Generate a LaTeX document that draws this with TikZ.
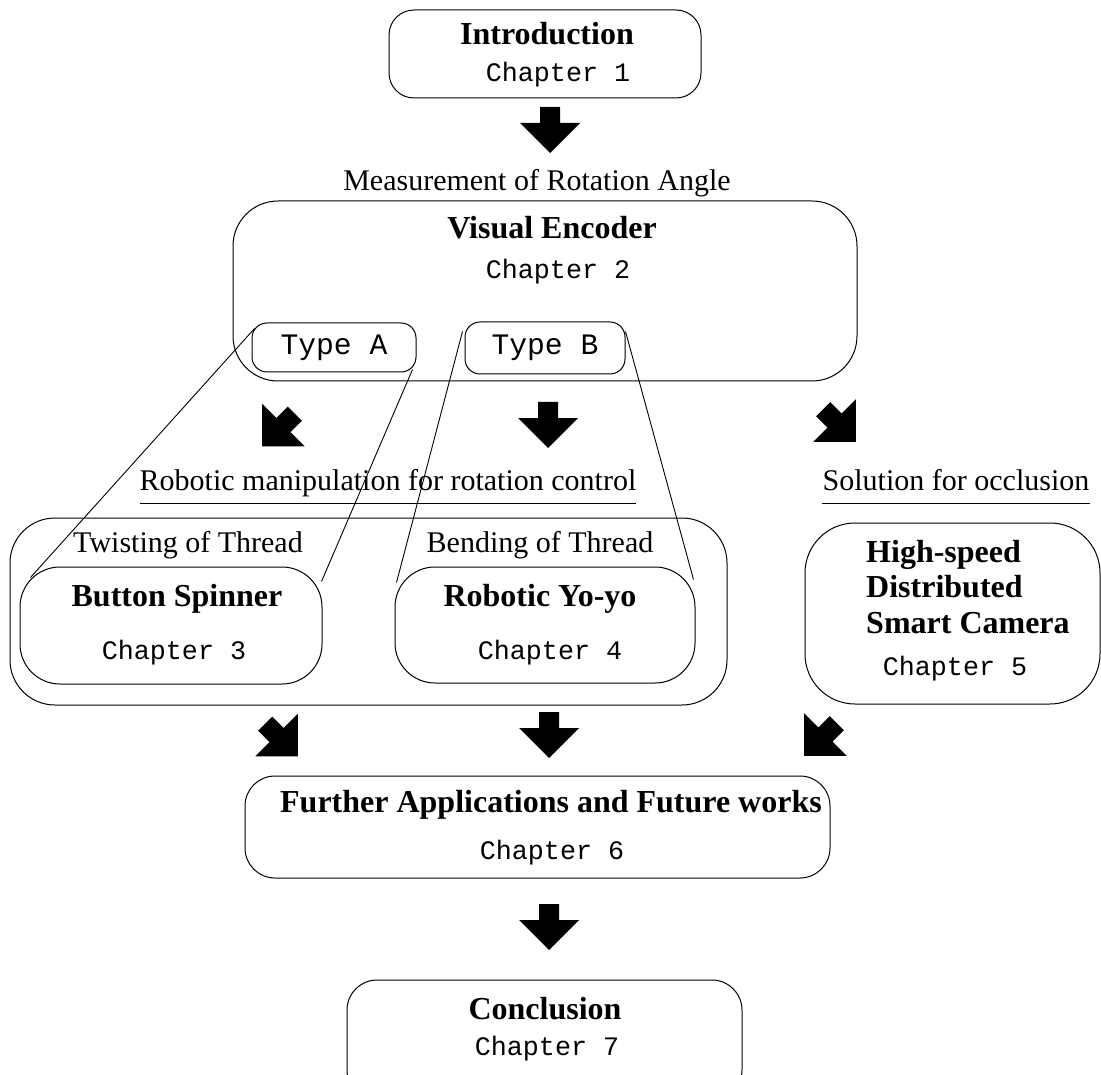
\documentclass[tikz,border=0pt]{standalone}
\usepackage{fontspec}
\setmainfont{Liberation Serif}
\setmonofont{Liberation Mono}
\usetikzlibrary{calc}
\tikzset{
  box/.style={draw, line width=1pt, rounded corners=#1, inner sep=0pt},
  ttl/.style={font=\fontsize{32}{36}\selectfont\bfseries, inner sep=0pt, text height=0.7em, text depth=0.2em, yshift=-7pt},
  lbl/.style={font=\fontsize{30}{34}\selectfont, inner sep=0pt, text height=0.7em, text depth=0.2em, yshift=-7pt},
  chap/.style={font=\fontsize{26.7}{30}\selectfont\ttfamily, inner sep=0pt, text height=0.7em, text depth=0.2em, yshift=-6pt},
  typ/.style={font=\fontsize{29.7}{32}\selectfont\ttfamily},
  conn/.style={line width=0.9pt},
  blockarrow/.pic={\fill (-10,-23) -- (10,-23) -- (10,-7) -- (30,-7) -- (0,23) -- (-30,-7) -- (-10,-7) -- cycle;}
}
\begin{document}
\begin{tikzpicture}[x=1pt,y=-1pt]
\useasboundingbox (0,0) rectangle (1101,1075);
\clip (0,0) rectangle (1101,1075);
% boxes
\node[box=25pt, minimum width=312, minimum height=88] (intro) at (545,54) {};
\node[box=45pt, minimum width=624, minimum height=180] (ve) at (545,291) {};
\node[box=15pt, minimum width=164, minimum height=49, typ] (typeA) at (334,347.5) {Type A};
\node[box=15pt, minimum width=160, minimum height=52, typ] (typeB) at (545,348) {Type B};
\node[box=45pt, minimum width=717, minimum height=187] (group) at (368.5,611.5) {};
\node[box=40pt, minimum width=302, minimum height=117] (spin) at (171,625.5) {};
\node[box=40pt, minimum width=300, minimum height=116] (yoyo) at (545,625) {};
\node[box=50pt, minimum width=295, minimum height=181] (hsdc) at (952.5,613.5) {};
\node[box=30pt, minimum width=585, minimum height=102] (further) at (537.5,827) {};
\node[box=30pt, minimum width=395, minimum height=120] (concl) at (544.5,1040) {};
% texts
\node[ttl] (introT) at (547,35) {Introduction};
\node[chap] (introC) at (558,73) {Chapter 1};
\node[lbl] (measure) at (537,181) {Measurement of Rotation Angle};
\node[ttl] (veT) at (552,229) {Visual Encoder};
\node[chap] (veC) at (558,270) {Chapter 2};
\node[lbl] (robot) at (388,481) {Robotic manipulation for rotation control};
\node[lbl] (occl) at (956,481) {Solution for occlusion};
\draw[line width=1pt] ([yshift=-11pt]robot.south west) -- ([yshift=-11pt]robot.south east);
\draw[line width=1pt] ([yshift=-11pt]occl.south west) -- ([yshift=-11pt]occl.south east);
\node[lbl] (twist) at (188,543) {Twisting of Thread};
\node[lbl] (bend) at (540,543) {Bending of Thread};
\node[ttl] (spinT) at (177,597) {Button Spinner};
\node[chap] (spinC) at (174,651) {Chapter 3};
\node[ttl] (yoyoT) at (540,597) {Robotic Yo-yo};
\node[chap] (yoyoC) at (550,651) {Chapter 4};
\node[font=\fontsize{32}{35.5}\selectfont\bfseries, align=left, anchor=west, inner sep=0pt] (hsdcT) at (866,587) {High-speed\\Distributed\\Smart Camera};
\node[chap] (hsdcC) at (955,667) {Chapter 5};
\node[ttl] (furtherT) at (551,803) {Further Applications and Future works};
\node[chap] (furtherC) at (552,851) {Chapter 6};
\node[ttl] (conclT) at (545,1010) {Conclusion};
\node[chap] (conclC) at (547,1047) {Chapter 7};
% connectors
\draw[conn] ($(typeA.north west)+(3,6)$) -- ($(spin.north west)+(11,11)$);
\draw[conn] ($(typeA.south east)+(-4,-3)$) -- ($(spin.north east)+(-1,15)$);
\draw[conn] ($(typeB.north west)+(-2,10)$) -- ($(yoyo.north west)+(2,16)$);
\draw[conn] ($(typeB.north east)+(0,10)$) -- ($(yoyo.north east)+(-2,13)$);
% block arrows
\pic at (550,130) {blockarrow};
\pic[rotate=-45] at (278.5,430) {blockarrow};
\pic at (548,425) {blockarrow};
\pic[rotate=45] at (839.5,425.5) {blockarrow};
\pic[rotate=45] at (281.5,740) {blockarrow};
\pic at (549,735) {blockarrow};
\pic[rotate=-45] at (820.5,739.5) {blockarrow};
\pic at (549,927) {blockarrow};
\end{tikzpicture}
\end{document}
